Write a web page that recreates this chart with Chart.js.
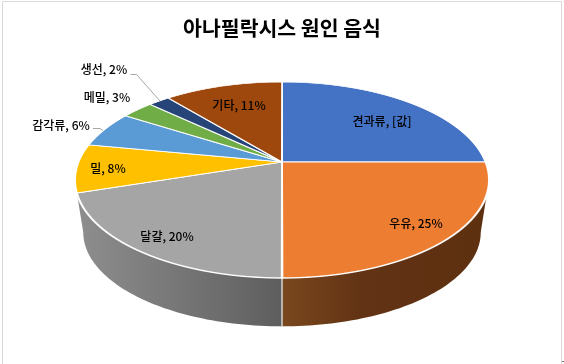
<!DOCTYPE html>
<html><head><meta charset="utf-8">
<script src="https://cdn.jsdelivr.net/npm/chart.js@4/dist/chart.umd.min.js"></script>
<style>html,body{margin:0;padding:0;background:#fff}#w{position:relative;width:564px;height:364px}</style>
</head><body><div id="w"><canvas id="c" width="564" height="364"></canvas></div>
<script>
const categories = ['견과류','우유','달걀','밀','감각류','메밀','생선','기타'];
const values = [25,25,20,8,6,3,2,11];
const valueTexts = ['[값]','25%','20%','8%','6%','3%','2%','11%'];
const sliceColors = ['#4472C4','#ED7D31','#A5A5A5','#FFC000','#5B9BD5','#70AD47','#264478','#9E480E'];
const titleText = '아나필락시스 원인 음식';

const KR = '"Noto Sans CJK KR","Noto Sans",sans-serif';
// perspective of the pie top
const view = {px:282, py:162, A:203.5, B:94.7, k:0.1837, depth:53, shrink:0.96};
const labelAt = [[382,121],[416,223],[167,236],[108,168],[61,125],[107,97],[104,69],[239,105]];
const wallStops = {1:[[0,'#7a481e'],[0.38,'#623314'],[1,'#5d3010']], 2:[[0,'#8e8e8e'],[1,'#5e5e5e']]};

function proj(theta, lower){
  const u=Math.cos(theta), v=-Math.sin(theta); // chart angle: 0=right, +cw
  const s=lower?view.shrink:1, py=lower?view.py+view.depth:view.py;
  const d=1+view.k*v;
  return [view.px+s*view.A*u/d, py-s*view.B*v/d];
}
const perspectivePie = {
  id:'perspectivePie',
  beforeDatasetDraw(chart,args){
    const ctx=chart.ctx, meta=args.meta, arc0=meta.data[0];
    const cx=arc0.x, cy=arc0.y, R=arc0.outerRadius, {px,py,A,B,k}=view;
    const sil=Math.asin(k); // angle of the widest point of the rim
    // side wall
    meta.data.forEach((el,i)=>{
      const stops=wallStops[i]; if(!stops) return;
      const n=60, pts=[];
      // visible part: between the right silhouette and the left silhouette
      const t0=Math.max(el.startAngle,sil), t1=Math.min(el.endAngle,Math.PI-sil);
      const b0=Math.max(el.startAngle,sil), b1=i===2?Math.PI-sil:Math.min(el.endAngle,Math.PI-sil);
      for(let j=0;j<=n;j++) pts.push(proj(t0+(t1-t0)*j/n,false));
      for(let j=n;j>=0;j--) pts.push(proj(b0+(b1-b0)*j/n,true));
      const xs=pts.map(p=>p[0]);
      const x0=i===1?px:Math.min(...xs), x1=i===1?Math.max(...xs):px;
      const g=ctx.createLinearGradient(x0,0,x1,0);
      stops.forEach(s=>g.addColorStop(s[0],s[1]));
      ctx.beginPath(); pts.forEach((p,j)=>j?ctx.lineTo(p[0],p[1]):ctx.moveTo(p[0],p[1])); ctx.closePath();
      ctx.fillStyle=g; ctx.fill();
    });
    const f=proj(Math.PI/2,false), b=proj(Math.PI/2,true);
    ctx.strokeStyle='#d4d4d4'; ctx.lineWidth=1.5; ctx.beginPath(); ctx.moveTo(f[0],f[1]); ctx.lineTo(b[0],b[1]); ctx.stroke();
    // top: row by row projective rendering of the library's arcs
    const yTop=Math.floor(proj(-Math.PI/2,false)[1])-2, yBot=Math.ceil(proj(Math.PI/2,false)[1])+2;
    for(let y=yTop;y<yBot;y++){
      const yc=y+.5, dy=yc-py, den=B+k*dy;
      if(den<=0) continue;
      const v=-dy/den, fx=1/(1+k*v);
      const a=A*fx/R, dd=den*den/(B*R);
      const Yc=cy-v*R;
      ctx.save();
      ctx.beginPath(); ctx.rect(0,y,chart.width,1); ctx.clip();
      ctx.transform(a,0,0,dd,px-a*cx,yc-dd*Yc);
      meta.controller.draw();
      ctx.restore();
    }
    return false;
  },
  afterDraw(chart){
    const ctx=chart.ctx;
    ctx.save();
    // leader lines
    ctx.strokeStyle='#a6a6a6'; ctx.lineWidth=1;
    ctx.beginPath(); ctx.moveTo(130.5,74.5); ctx.lineTo(136.5,74.5); ctx.lineTo(160,101); ctx.stroke();
    ctx.beginPath(); ctx.moveTo(93,128.5); ctx.lineTo(100,128.5); ctx.lineTo(103,130.5); ctx.stroke();
    ctx.fillStyle='#000'; ctx.font='500 12px '+KR; ctx.textAlign='center'; ctx.textBaseline='middle';
    categories.forEach((c,i)=>ctx.fillText(c+', '+valueTexts[i],labelAt[i][0],labelAt[i][1]));
    // frame
    ctx.strokeStyle='#d9d9d9'; ctx.beginPath(); ctx.moveTo(2.5,364); ctx.lineTo(2.5,1.5); ctx.lineTo(561.5,1.5); ctx.lineTo(561.5,364); ctx.stroke();
    ctx.strokeStyle='#808080'; ctx.beginPath(); ctx.moveTo(562,361.5); ctx.lineTo(564,361.5); ctx.stroke();
    ctx.restore();
  }
};
new Chart(document.getElementById('c'),{
  type:'pie',
  data:{labels:categories,datasets:[{data:values,backgroundColor:sliceColors,borderColor:'#ffffff',borderWidth:1.5}]},
  plugins:[perspectivePie],
  options:{responsive:false,animation:false,
    layout:{padding:{top:0,bottom:0,left:0,right:0}},
    plugins:{legend:{display:false},tooltip:{enabled:false},
      title:{display:true,text:titleText,color:'#000',font:{family:KR,size:20.5,weight:'bold'},padding:{top:16,bottom:10}}}}
});
</script></body></html>
